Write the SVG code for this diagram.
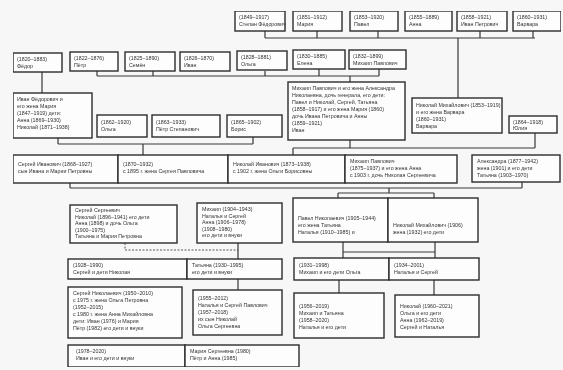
<svg xmlns="http://www.w3.org/2000/svg" width="563" height="370" viewBox="0 0 563 370">
<defs>
<style>
.b{fill:#fdfdfd;stroke:#2c2c2c;stroke-width:1.4}
.t{font-family:"Liberation Sans","Noto Sans",sans-serif;font-size:5.3px;fill:#333}
.c{fill:none;stroke:#383838;stroke-width:1.2}
.d{fill:none;stroke:#5a5a5a;stroke-width:1;stroke-dasharray:2 1.5}
</style>
<filter id="soft" x="0" y="0" width="1" height="1"><feGaussianBlur stdDeviation="0.3"/></filter>
</defs>
<rect width="563" height="370" fill="#f7f7f7"/>
<g filter="url(#soft)">
<g id="connectors">
<path class="c" d="M265 31V38M317 31V38M378 31V38M480 31V38M533 31V38M265 38H535M458 38V98"/>
<path class="c" d="M97 71V76M153 71V76M265 71V76M319 69V76M379 69V76M97 76H379M350 76V82M42 72V93"/>
<path class="c" d="M58 138V144M253 137V144M58 144H253M143 144V155"/>
<path class="c" d="M350 140V148M535 133V148M293 148H535M293 148V155"/>
<path class="c" d="M70 183V188M522 182V188M70 188H522M389 188V193M338 193H434M338 193V198M434 193V198"/>
<path class="d" d="M125 243V250H238"/>
<path class="c" d="M238 243V259M343 242V258M435 242V258M343 252H435"/>
<path class="c" d="M238 279V290M339 280V293M434 280V295"/>
</g>
<g id="n1"><rect class="b" x="235" y="11" width="50" height="20"/><text class="t" x="239" y="19">(1849–1917)</text><text class="t" x="239" y="26">Степан Фёдорович</text></g>
<g id="n2"><rect class="b" x="293" y="11" width="49" height="20"/><text class="t" x="297" y="19">(1851–1912)</text><text class="t" x="297" y="26">Мария</text></g>
<g id="n3"><rect class="b" x="350" y="11" width="48" height="20"/><text class="t" x="354" y="19">(1853–1920)</text><text class="t" x="354" y="26">Павел</text></g>
<g id="n4"><rect class="b" x="405" y="11" width="47" height="20"/><text class="t" x="409" y="19">(1855–1889)</text><text class="t" x="409" y="26">Анна</text></g>
<g id="n5"><rect class="b" x="457" y="11" width="50" height="20"/><text class="t" x="461" y="19">(1858–1921)</text><text class="t" x="461" y="26">Иван Петрович</text></g>
<g id="n6"><rect class="b" x="513" y="11" width="48" height="20"/><text class="t" x="517" y="19">(1860–1931)</text><text class="t" x="517" y="26">Варвара</text></g>

<g id="n7"><rect class="b" x="13" y="53" width="49" height="19"/><text class="t" x="17" y="61">(1820–1883)</text><text class="t" x="17" y="68">Фёдор</text></g>
<g id="n8"><rect class="b" x="70" y="52" width="48" height="19"/><text class="t" x="74" y="60">(1822–1876)</text><text class="t" x="74" y="67">Пётр</text></g>
<g id="n9"><rect class="b" x="125" y="52" width="50" height="19"/><text class="t" x="129" y="60">(1825–1890)</text><text class="t" x="129" y="67">Семён</text></g>
<g id="n10"><rect class="b" x="180" y="52" width="50" height="19"/><text class="t" x="184" y="60">(1826–1870)</text><text class="t" x="184" y="67">Иван</text></g>
<g id="n11"><rect class="b" x="237" y="51" width="50" height="19"/><text class="t" x="241" y="59">(1828–1881)</text><text class="t" x="241" y="66">Ольга</text></g>
<g id="n12"><rect class="b" x="293" y="50" width="52" height="19"/><text class="t" x="297" y="58">(1830–1885)</text><text class="t" x="297" y="65">Елена</text></g>
<g id="n13"><rect class="b" x="349" y="50" width="57" height="19"/><text class="t" x="353" y="58">(1832–1899)</text><text class="t" x="353" y="65">Михаил Павлович</text></g>

<g id="n14"><rect class="b" x="13" y="93" width="79" height="45"/><text class="t" x="17" y="101">Иван Фёдорович и</text><text class="t" x="17" y="108">его жена Мария</text><text class="t" x="17" y="115">(1847–1919) дети:</text><text class="t" x="17" y="122">Анна (1869–1930)</text><text class="t" x="17" y="129">Николай (1871–1938)</text></g>
<g id="n15"><rect class="b" x="97" y="115" width="50" height="22"/><text class="t" x="101" y="124">(1862–1920)</text><text class="t" x="101" y="131">Ольга</text></g>
<g id="n16"><rect class="b" x="152" y="115" width="68" height="22"/><text class="t" x="156" y="124">(1863–1933)</text><text class="t" x="156" y="131">Пётр Степанович</text></g>
<g id="n17"><rect class="b" x="227" y="115" width="55" height="22"/><text class="t" x="231" y="124">(1865–1902)</text><text class="t" x="231" y="131">Борис</text></g>
<g id="n18"><rect class="b" x="288" y="82" width="117" height="58"/><text class="t" x="292" y="90">Михаил Павлович и его жена Александра</text><text class="t" x="292" y="97">Николаевна, дочь генерала, его дети:</text><text class="t" x="292" y="104">Павел и Николай, Сергей, Татьяна</text><text class="t" x="292" y="111">(1858–1917) и его жена Мария (1860)</text><text class="t" x="292" y="118">дочь Ивана Петровича и Анны</text><text class="t" x="292" y="125">(1859–1921)</text><text class="t" x="292" y="132">Иван</text></g>
<g id="n19"><rect class="b" x="412" y="98" width="90" height="35"/><text class="t" x="416" y="107">Николай Михайлович (1853–1919)</text><text class="t" x="416" y="114">и его жена Варвара</text><text class="t" x="416" y="121">(1860–1931)</text><text class="t" x="416" y="128">Варвара</text></g>
<g id="n20"><rect class="b" x="509" y="116" width="48" height="17"/><text class="t" x="513" y="124">(1864–1918)</text><text class="t" x="513" y="130">Юлия</text></g>

<g id="n21"><rect class="b" x="13" y="155" width="105" height="28"/><text class="t" x="18" y="166">Сергей Иванович (1868–1927)</text><text class="t" x="18" y="173">сын Ивана и Марии Петровны</text></g>
<g id="n22"><rect class="b" x="118" y="155" width="110" height="28"/><text class="t" x="123" y="166">(1870–1932)</text><text class="t" x="123" y="173">с 1895 г. жена Сергея Павловича</text></g>
<g id="n23"><rect class="b" x="228" y="155" width="117" height="28"/><text class="t" x="233" y="166">Николай Иванович (1873–1938)</text><text class="t" x="233" y="173">с 1902 г. жена Ольги Борисовны</text></g>
<g id="n24"><rect class="b" x="345" y="155" width="112" height="28"/><text class="t" x="350" y="163">Михаил Павлович</text><text class="t" x="350" y="170">(1875–1937) и его жена Анна</text><text class="t" x="350" y="177">с 1903 г. дочь Николая Сергеевича</text></g>
<g id="n25"><rect class="b" x="472" y="155" width="88" height="27"/><text class="t" x="477" y="163">Александра (1877–1942)</text><text class="t" x="477" y="170">жена (1901) и его дети</text><text class="t" x="477" y="177">Татьяна (1903–1970)</text></g>

<g id="n26"><rect class="b" x="70" y="205" width="107" height="38"/><text class="t" x="75" y="212">Сергей Сергеевич</text><text class="t" x="75" y="218.5">Николай (1896–1941) его дети</text><text class="t" x="75" y="225">Анна (1898) и дочь Ольга</text><text class="t" x="75" y="231.5">(1900–1975)</text><text class="t" x="75" y="238">Татьяна и Мария Петровна</text></g>
<g id="n27"><rect class="b" x="197" y="203" width="85" height="40"/><text class="t" x="202" y="211">Михаил (1904–1943)</text><text class="t" x="202" y="217.5">Наталья и Сергей</text><text class="t" x="202" y="224">Анна (1906–1978)</text><text class="t" x="202" y="230.5">(1908–1980)</text><text class="t" x="202" y="237">его дети и внуки</text></g>
<g id="n28"><rect class="b" x="293" y="198" width="95" height="44"/><text class="t" x="298" y="220">Павел Николаевич (1905–1944)</text><text class="t" x="298" y="227">его жена Татьяна</text><text class="t" x="298" y="234">Наталья (1910–1985) и</text></g>
<g id="n29"><rect class="b" x="388" y="198" width="90" height="44"/><text class="t" x="393" y="227">Николай Михайлович (1906)</text><text class="t" x="393" y="234">жена (1932) его дети</text></g>

<g id="n30"><rect class="b" x="68" y="259" width="119" height="20"/><text class="t" x="73" y="267">(1928–1990)</text><text class="t" x="73" y="274">Сергей и дети Николая</text></g>
<g id="n31"><rect class="b" x="187" y="259" width="95" height="20"/><text class="t" x="192" y="267">Татьяна (1930–1995)</text><text class="t" x="192" y="274">его дети и внуки</text></g>
<g id="n32"><rect class="b" x="294" y="258" width="95" height="22"/><text class="t" x="299" y="267">(1931–1998)</text><text class="t" x="299" y="274">Михаил и его дети Ольга</text></g>
<g id="n33"><rect class="b" x="389" y="258" width="90" height="22"/><text class="t" x="394" y="267">(1934–2001)</text><text class="t" x="394" y="274">Наталья и Сергей</text></g>

<g id="n34"><rect class="b" x="68" y="287" width="114" height="51"/><text class="t" x="73" y="295">Сергей Николаевич (1950–2010)</text><text class="t" x="73" y="302">с 1975 г. жена Ольга Петровна</text><text class="t" x="73" y="309">(1952–2015)</text><text class="t" x="73" y="316">с 1980 г. жена Анна Михайловна</text><text class="t" x="73" y="323">дети: Иван (1976) и Мария</text><text class="t" x="73" y="330">Пётр (1982) его дети и внуки</text></g>
<g id="n35"><rect class="b" x="193" y="290" width="89" height="45"/><text class="t" x="198" y="300">(1955–2012)</text><text class="t" x="198" y="307">Наталья и Сергей Павлович</text><text class="t" x="198" y="314">(1957–2018)</text><text class="t" x="198" y="321">их сын Николай</text><text class="t" x="198" y="328">Ольга Сергеевна</text></g>
<g id="n36"><rect class="b" x="294" y="293" width="90" height="45"/><text class="t" x="299" y="308">(1956–2019)</text><text class="t" x="299" y="315">Михаил и Татьяна</text><text class="t" x="299" y="322">(1958–2020)</text><text class="t" x="299" y="329">Наталья и его дети</text></g>
<g id="n37"><rect class="b" x="395" y="295" width="84" height="42"/><text class="t" x="400" y="308">Николай (1960–2021)</text><text class="t" x="400" y="315">Ольга и его дети</text><text class="t" x="400" y="322">Анна (1962–2019)</text><text class="t" x="400" y="329">Сергей и Наталья</text></g>

<g id="n38"><rect class="b" x="68" y="345" width="117" height="22"/><text class="t" x="76" y="353">(1978–2020)</text><text class="t" x="76" y="360">Иван и его дети и внуки</text></g>
<g id="n39"><rect class="b" x="185" y="345" width="114" height="22"/><text class="t" x="190" y="353">Мария Сергеевна (1980)</text><text class="t" x="190" y="360">Пётр и Анна (1985)</text></g>
</g>
</svg>
